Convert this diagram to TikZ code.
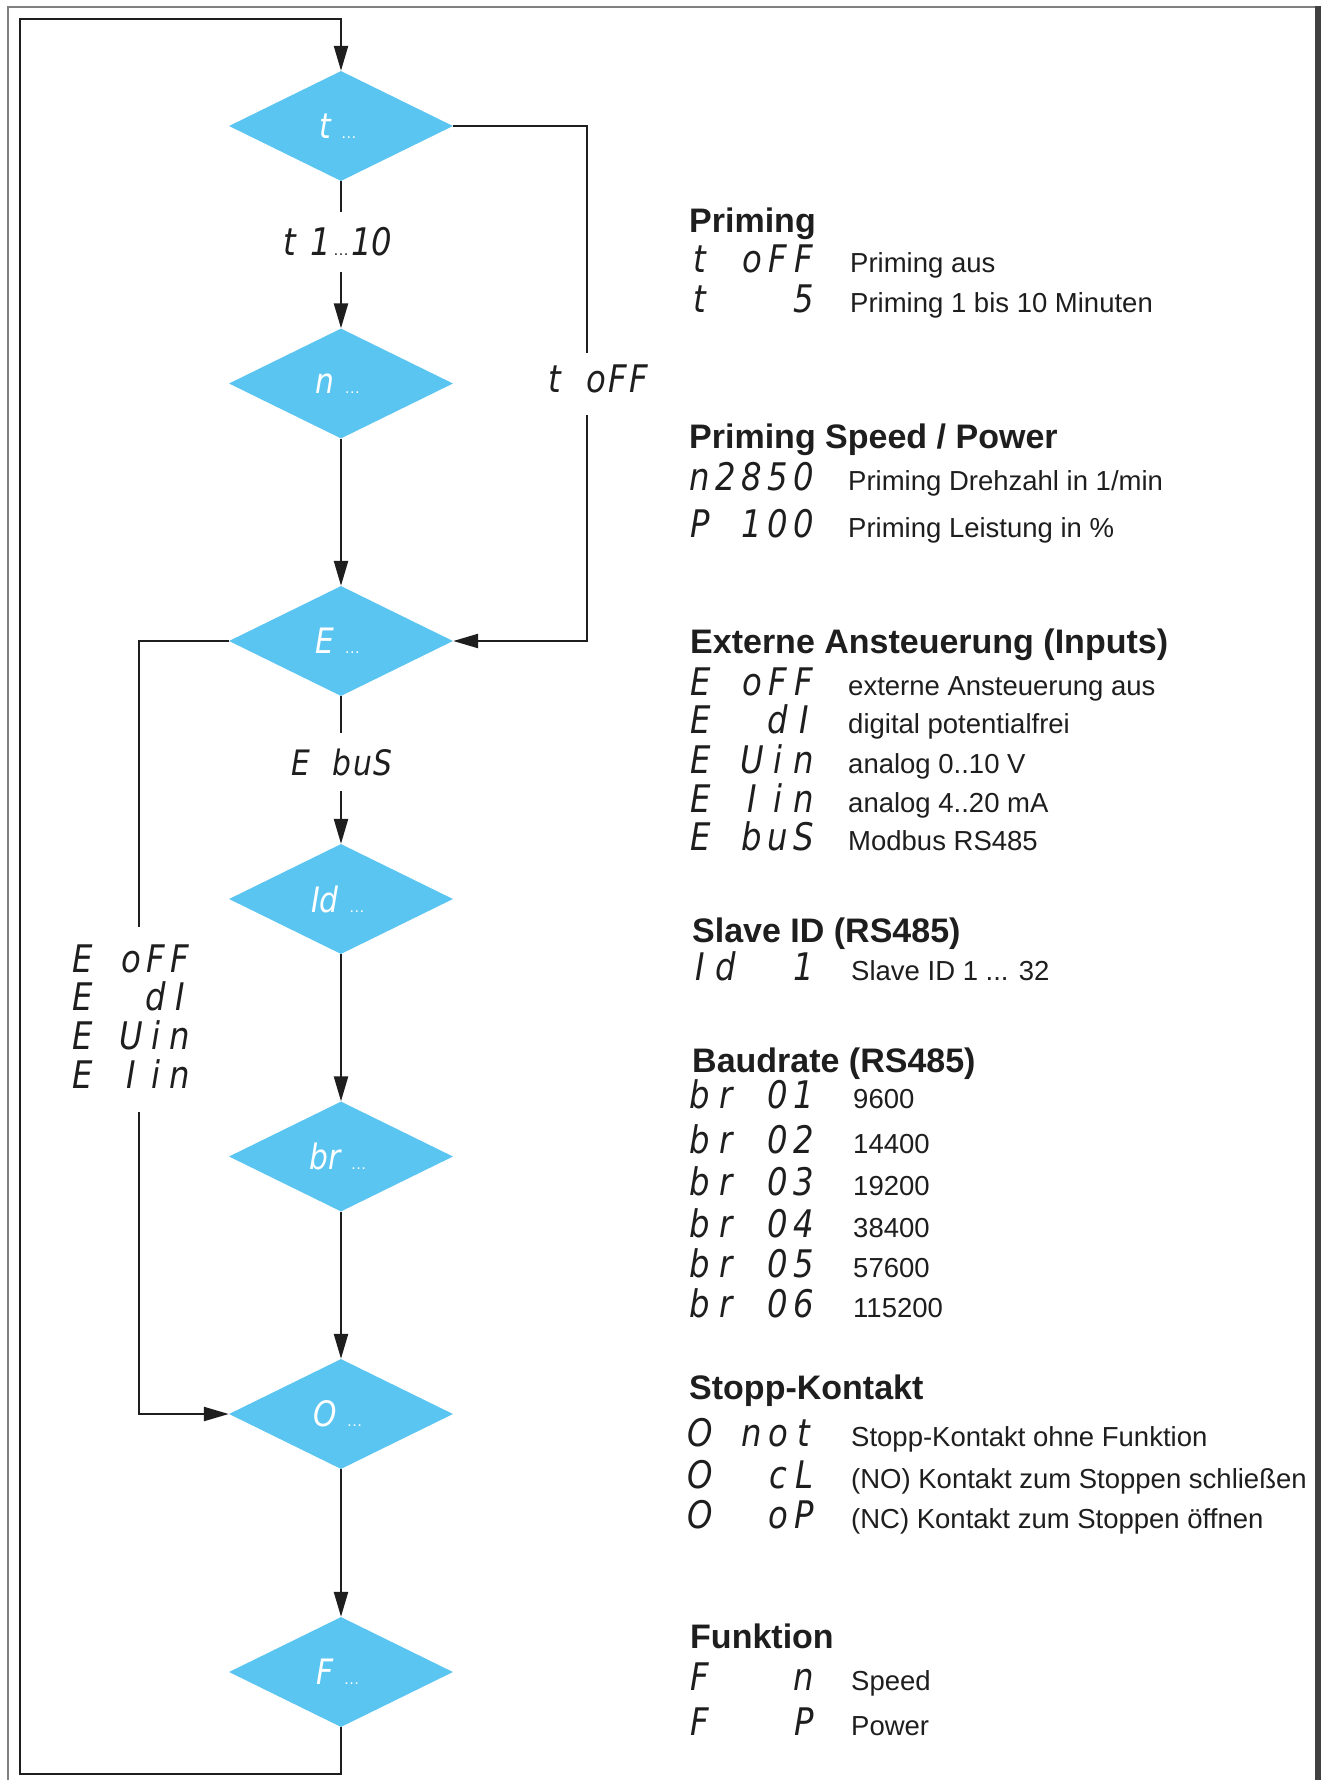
\documentclass[tikz,border=0pt]{standalone}
\usepackage{fontspec}
\setmainfont{Liberation Sans}
\newfontfamily\segfamily[FakeStretch=0.85]{DejaVu Sans}
\usetikzlibrary{shapes.geometric,arrows.meta}
\definecolor{dblue}{HTML}{5BC5F1}
\definecolor{ink}{HTML}{1E1E1E}
\definecolor{framec}{HTML}{808080}

\newcommand\headfont{\fontsize{34}{40}\selectfont\bfseries}
\newcommand\bodyfont{\fontsize{27.5}{32}\selectfont}
\newcommand\segfont{\segfamily\itshape\fontsize{38}{44}\selectfont}
\newcommand\segsmall{\segfamily\itshape\fontsize{35}{40}\selectfont}
\newcommand\ellf{\fontsize{16}{18}\selectfont\rmfamily\upshape}
\newcommand\dlab[1]{{\segsmall #1}\hspace{10pt}{\ellf …}\hspace*{6pt}}

\ExplSyntaxOn
\NewDocumentCommand\segstr{O{26pt}m}{
  \str_map_inline:nn {#2}{
    \str_if_eq:nnTF {##1}{_}{\makebox[#1]{}}{\makebox[#1][c]{##1}}
  }
}
\ExplSyntaxOff

\tikzset{
  dia/.style={diamond, fill=dblue, draw=none, minimum width=224pt, minimum height=110pt,
    inner sep=0pt, aspect=2.04, text=white},
  conn/.style={draw=ink, line width=2.4pt},
  arr/.style={conn, -{Triangle[length=25pt,width=14pt]}},
  head/.style={anchor=base west, inner sep=0pt, font=\headfont, text=ink},
  body/.style={anchor=base west, inner sep=0pt, font=\bodyfont, text=ink},
  seg/.style={anchor=base west, inner sep=0pt, font=\segfont, text=ink},
  gaplbl/.style={inner sep=0pt, text=ink},
}

\begin{document}
\begin{tikzpicture}[x=1pt,y=-1pt]
\useasboundingbox (0,0) rectangle (1321,1780);
\fill[white] (0,0) rectangle (1321,1780);
% frame
\draw[framec, line width=2pt] (8,1780) -- (8,7) -- (1316,7);
\fill[black!75] (1315,6) rectangle (1321,1780);

% diamonds
\node[dia] (t)  at (341,126)    {\dlab{t}};
\node[dia] (n)  at (341,383.5)  {\dlab{n}};
\node[dia] (E)  at (341,641)    {\dlab{E}};
\node[dia] (Id) at (341,899)    {\dlab{Id}};
\node[dia] (br) at (341,1156.5) {\dlab{br}};
\node[dia] (O)  at (341,1414)   {\dlab{O}};
\node[dia] (F)  at (341,1672)   {\dlab{F}};

% outer loop
\coordinate (loopBR) at (341,1774);
\coordinate (loopBL) at (20,1774);
\coordinate (loopTL) at (20,19);
\coordinate (loopTR) at (341,19);
\draw[arr] (F.south) -- (loopBR) -- (loopBL) -- (loopTL) -- (loopTR) -- (t.north);

% t -> n with label
\node[gaplbl, minimum height=60pt] (l110) at (338,242)
  {{\segfont t\hspace{14pt}1}\hspace{2pt}{\ellf …}\hspace{2pt}{\segfont 10}};
\draw[conn] (t.south) -- (t.south |- l110.north);
\draw[arr] (n.north |- l110.south) -- (n.north);

% n -> E
\draw[arr] (n.south) -- (E.north);

% t -> E (t oFF)
\coordinate (Tg1) at (587,353);
\coordinate (Tg2) at (587,415);
\node[seg] (ltoff) at (544,392) {\segstr[21pt]{t_oFF}};
\draw[conn] (t.east) -| (Tg1);
\draw[arr] (Tg2) |- (E.east);

% E -> Id (E buS)
\node[gaplbl, minimum height=58pt, font=\segsmall] (lbus) at (342,762) {\segstr[20.5pt]{E_buS}};
\draw[conn] (E.south) -- (E.south |- lbus.north);
\draw[arr] (Id.north |- lbus.south) -- (Id.north);

% E -> O (left branch)
\coordinate (Eg1) at (139,927);
\coordinate (Eg2) at (139,1112);
\node[seg] (lE1) at (70,972)  {\segstr[24.4pt]{E_oFF}};
\node[seg] (lE2) at (70,1010) {\segstr[24.4pt]{E__dI}};
\node[seg] (lE3) at (70,1049) {\segstr[24.4pt]{E_Uin}};
\node[seg] (lE4) at (70,1088) {\segstr[24.4pt]{E_Iin}};
\draw[conn] (E.west) -| (Eg1);
\draw[arr] (Eg2) |- (O.west);

% vertical chain
\draw[arr] (Id.south) -- (br.north);
\draw[arr] (br.south) -- (O.north);
\draw[arr] (O.south) -- (F.north);

% ---------- right column ----------
\node[head] (h1) at (689,232) {Priming};
\node[seg]  (s11) at (687,272) {\segstr{t_oFF}};
\node[body] (b11) at (850,272) {Priming aus};
\node[seg]  (s12) at (687,312) {\segstr{t___5}};
\node[body] (b12) at (850,312) {Priming 1 bis 10 Minuten};

\node[head] (h2) at (689,448) {Priming Speed / Power};
\node[seg]  (s21) at (687,490) {\segstr{n2850}};
\node[body] (b21) at (848,490) {Priming Drehzahl in 1/min};
\node[seg]  (s22) at (687,537) {\segstr{P_100}};
\node[body] (b22) at (848,537) {Priming Leistung in \%};

\node[head] (h3) at (690,653) {Externe Ansteuerung (Inputs)};
\node[seg]  (s31) at (687,695) {\segstr{E_oFF}};
\node[body] (b31) at (848,695) {externe Ansteuerung aus};
\node[seg]  (s32) at (687,733) {\segstr{E__dI}};
\node[body] (b32) at (848,733) {digital potentialfrei};
\node[seg]  (s33) at (687,773) {\segstr{E_Uin}};
\node[body] (b33) at (848,773) {analog 0..10 V};
\node[seg]  (s34) at (687,812) {\segstr{E_Iin}};
\node[body] (b34) at (848,812) {analog 4..20 mA};
\node[seg]  (s35) at (687,850) {\segstr{E_buS}};
\node[body] (b35) at (848,850) {Modbus RS485};

\node[head] (h4) at (692,942) {Slave ID (RS485)};
\node[seg]  (s41) at (687,980) {\segstr{Id__1}};
\node[body] (b41) at (851,980) {Slave ID 1 ... 32};

\node[head] (h5) at (692,1072) {Baudrate (RS485)};
\node[seg]  (s51) at (687,1108) {\segstr{br_01}};
\node[body] (b51) at (853,1108) {9600};
\node[seg]  (s52) at (687,1153) {\segstr{br_02}};
\node[body] (b52) at (853,1153) {14400};
\node[seg]  (s53) at (687,1195) {\segstr{br_03}};
\node[body] (b53) at (853,1195) {19200};
\node[seg]  (s54) at (687,1237) {\segstr{br_04}};
\node[body] (b54) at (853,1237) {38400};
\node[seg]  (s55) at (687,1277) {\segstr{br_05}};
\node[body] (b55) at (853,1277) {57600};
\node[seg]  (s56) at (687,1317) {\segstr{br_06}};
\node[body] (b56) at (853,1317) {115200};

\node[head] (h6) at (689,1399) {Stopp-Kontakt};
\node[seg]  (s61) at (687,1446) {\segstr{O_not}};
\node[body] (b61) at (851,1446) {Stopp-Kontakt ohne Funktion};
\node[seg]  (s62) at (687,1488) {\segstr{O__cL}};
\node[body] (b62) at (851,1488) {(NO) Kontakt zum Stoppen schließen};
\node[seg]  (s63) at (687,1528) {\segstr{O__oP}};
\node[body] (b63) at (851,1528) {(NC) Kontakt zum Stoppen öffnen};

\node[head] (h7) at (690,1648) {Funktion};
\node[seg]  (s71) at (687,1690) {\segstr{F___n}};
\node[body] (b71) at (851,1690) {Speed};
\node[seg]  (s72) at (687,1735) {\segstr{F___P}};
\node[body] (b72) at (851,1735) {Power};
\end{tikzpicture}
\end{document}
